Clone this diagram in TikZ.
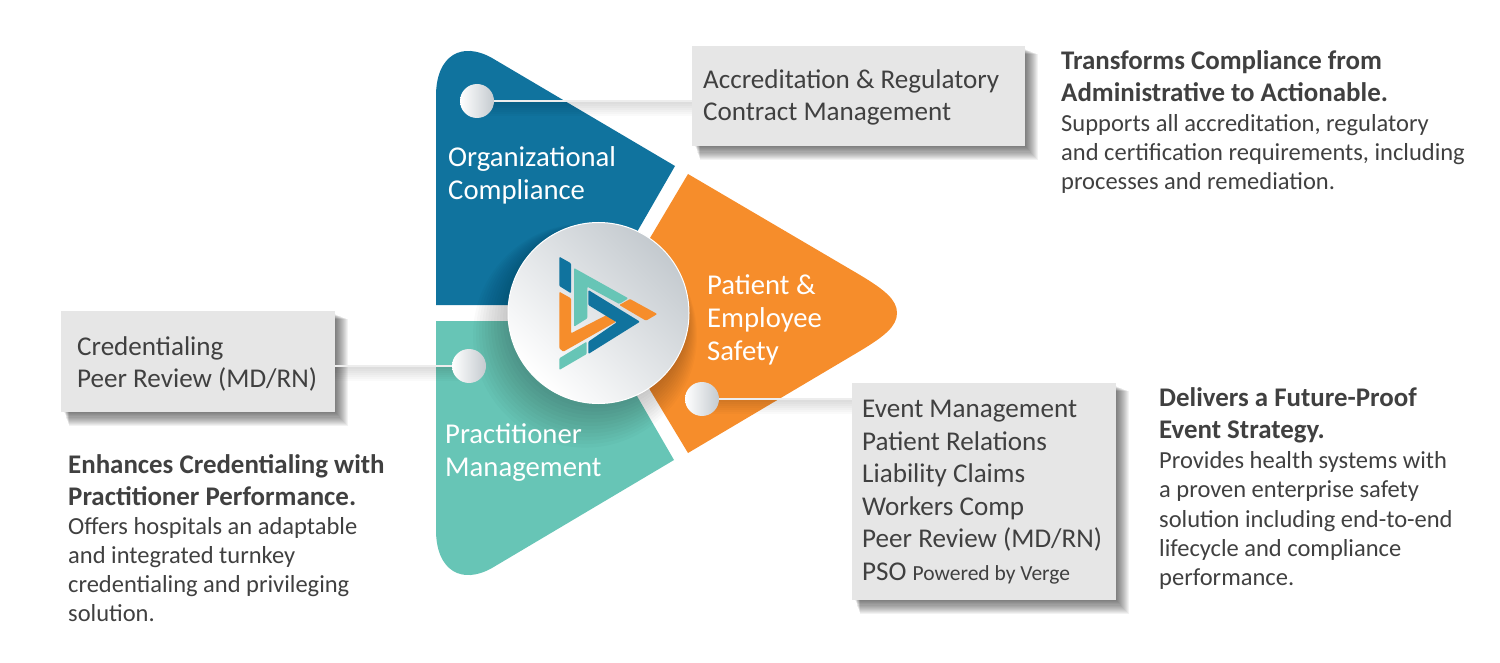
\documentclass[tikz,border=0pt]{standalone}
\usepackage{fontspec}
\setmainfont{Carlito}
\definecolor{segblue}{HTML}{10739E}
\definecolor{segorange}{HTML}{F68D2B}
\definecolor{segteal}{HTML}{67C5B6}
\definecolor{boxgray}{HTML}{E6E6E6}
\definecolor{inkgray}{HTML}{404040}
\definecolor{hubgray}{HTML}{C4CACF}
\tikzset{
    infobox/.style={fill=boxgray, text=inkgray, anchor=north west, align=left, inner sep=0pt,
        font=\fontsize{27.1}{32.5}\selectfont},
    seglabel/.style={text=white, anchor=north west, align=left, inner sep=0pt,
        font=\fontsize{28.7}{33}\selectfont},
    headline/.style={text=inkgray, anchor=north west, align=left, inner sep=0pt,
        font=\fontsize{26.9}{32}\selectfont\bfseries},
    bodytext/.style={text=inkgray, anchor=north west, align=left, inner sep=0pt,
        font=\fontsize{24.5}{29.2}\selectfont},
    pin/.style={circle, minimum size=34pt, inner sep=0pt, left color=white, right color=hubgray},
    connector/.style={draw=boxgray!70!white, line width=2.5pt},
    softshade/.style={black, opacity=.02}
}

\begin{document}
\begin{tikzpicture}[x=1pt,y=-1pt]

    \useasboundingbox (0,0) rectangle (1500,663);

    % segments
    \fill[segblue] (436,305) -- (436,96) .. controls (436,55) and (462,41) .. (492,58)
        -- (675,166) -- (637,232) -- (600,305) -- cycle;
    \fill[segteal] (436,321) -- (436,530) .. controls (436,571) and (462,585) .. (492,568)
        -- (674,460) -- (637,396) -- (600,321) -- cycle;
    \fill[segorange] (688,174) -- (860,275) .. controls (885,290) and (897,300) .. (897,313)
        .. controls (897,326) and (885,336) .. (860,351) -- (688,453) -- (650,390) -- (620,313) -- (650,238) -- cycle;

    % circle shadow
    \foreach \i in {0,...,11}
        \fill[softshade] (596-\i,318+1.6*\i) circle ({90+2*\i});

    % connector shadows
    \foreach \x/\y/\w in {477/101/692, 702/399/852, 335/366/469}
        \foreach \i in {1,...,7}
            \fill[softshade] (\x,\y+1) rectangle (\w,\y+2*\i+1);

    % box shadows
    \foreach \xa/\ya/\xb/\yb in {692/46/1025/146, 852/383/1116/600, 61/311/335/412}
        \foreach \i in {1,...,13}
            \fill[softshade, opacity=.05] (\xa+3+.4*\i,\ya+3+.4*\i) rectangle (\xb+\i,\yb+1.1*\i);

    \node (boxOrg) [infobox, minimum width=333pt, minimum height=100pt] at (692,46) {};
    \node (boxSafety) [infobox, minimum width=264pt, minimum height=217pt] at (852,383) {};
    \node (boxPract) [infobox, minimum width=274pt, minimum height=101pt] at (61,311) {};

    \node (pinOrg) [pin] at (477,101) {};
    \node (pinSafety) [pin] at (702,399) {};
    \node (pinPract) [pin] at (469,366) {};

    \draw[connector] (pinOrg.east) -- (pinOrg.east -| boxOrg.west);
    \draw[connector] (pinSafety.east) -- (pinSafety.east -| boxSafety.west);
    \draw[connector] (pinPract.west) -- (pinPract.west -| boxPract.east);

    % logo
    \node (hub) [circle, minimum size=181pt, inner sep=0pt, draw=white, line width=1pt,
        top color=hubgray, bottom color=white, shading angle=-45] at (598.5,313) {};
    \begin{scope}[rounded corners=1pt]
        \fill[segblue] (559.3,256.7) -- (571,263.3) -- (571,293.3) -- (559.3,286) -- cycle;
        \fill[segteal] (574,268) -- (628.3,298.3) -- (619.3,304) -- (587.3,286.7) -- (587.3,318.3) -- (574,326.7) -- cycle;
        \fill[segorange] (619.3,305) -- (630,299) -- (657.3,314) -- (646,320.7) -- cycle;
        \fill[segorange] (559.3,291.7) -- (571,298.3) -- (571,333.3) -- (606.7,315) -- (616,321.7) -- (563.3,351.7) -- (559.3,348.3) -- cycle;
        \fill[segteal] (559.3,358.3) -- (586.7,341.7) -- (586.7,354) -- (559.3,370) -- cycle;
        \fill[segblue] (588.3,290) -- (640,321.7) -- (588.3,354) -- (588.3,341.7) -- (616.7,322.3) -- (588.3,305) -- cycle;
    \end{scope}

    \node (orgLabel) [seglabel] at (448,146.5) {Organizational\\Compliance};
    \node (safetyLabel) [seglabel] at (707,274.5) {Patient \&\\Employee\\Safety};
    \node (practLabel) [seglabel] at (445,423) {Practitioner\\Management};

    \node (orgItems) [infobox, fill=none] at (703,69) {Accreditation \& Regulatory\\Contract Management};
    \node (safetyItems) [infobox, fill=none] at (862,400) {Event Management\\Patient Relations\\Liability Claims\\Workers Comp\\Peer Review (MD/RN)\\PSO {\fontsize{21.5}{32.5}\selectfont Powered by Verge}};
    \node (practItems) [infobox, fill=none] at (77,336) {Credentialing\\Peer Review (MD/RN)};

    \node (orgHead) [headline] at (1061,50.5) {Transforms Compliance from\\Administrative to Actionable.};
    \node (orgBody) [bodytext] at (1061,114) {Supports all accreditation, regulatory\\and certification requirements, including\\processes and remediation.};
    \node (safetyHead) [headline] at (1159,387) {Delivers a Future-Proof\\Event Strategy.};
    \node (safetyBody) [bodytext] at (1159,451.5) {Provides health systems with\\a proven enterprise safety\\solution including end-to-end\\lifecycle and compliance\\performance.};
    \node (practHead) [headline] at (68,454) {Enhances Credentialing with\\Practitioner Performance.};
    \node (practBody) [bodytext] at (68,517) {Offers hospitals an adaptable\\and integrated turnkey\\credentialing and privileging\\solution.};

\end{tikzpicture}
\end{document}
